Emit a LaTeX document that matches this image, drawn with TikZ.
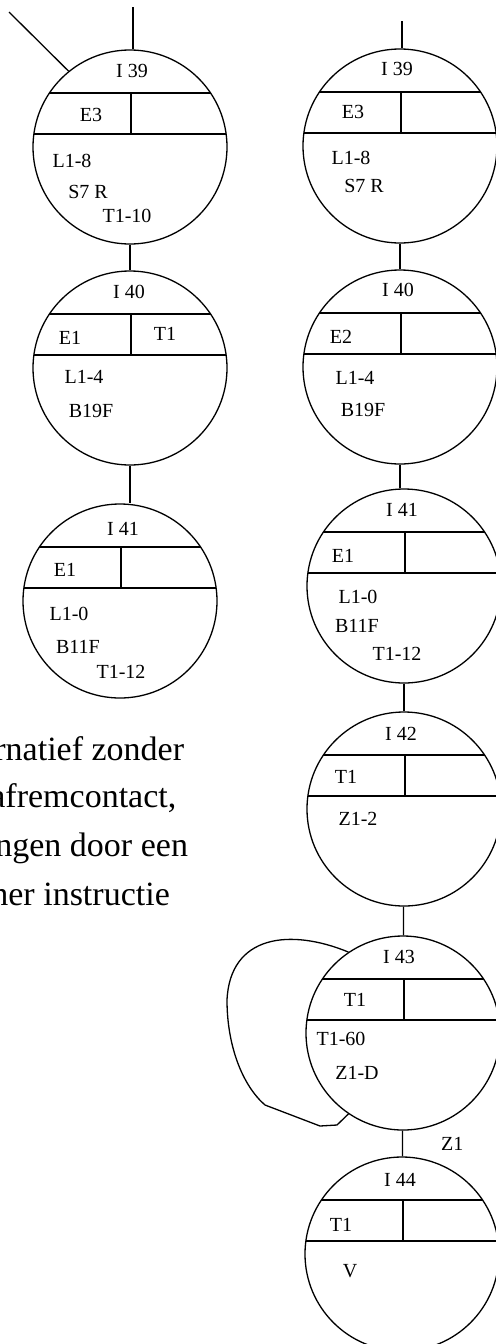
\documentclass[tikz,border=0pt]{standalone}
\usepackage{fontspec}
\setmainfont{Liberation Serif}
\usetikzlibrary{calc}
\tikzstyle{stap} = [circle, draw, line width=0.65pt, minimum size=97pt, inner sep=0pt]
\tikzstyle{veld} = [inner sep=0pt, font=\fontsize{10pt}{12pt}\selectfont]
\tikzstyle{tekst} = [inner sep=0pt, anchor=base west, font=\fontsize{17pt}{20pt}\selectfont]
\tikzstyle{verbinding} = [line width=0.65pt]

\begin{document}
\begin{tikzpicture}[x=0.5pt, y=-0.5pt]
\useasboundingbox (0,0) rectangle (496,1344);
\node (i39l) [stap] at (130,147) {};
\node (i40l) [stap] at (130,368) {};
\node (i41l) [stap] at (120,601) {};
\node (i39r) [stap] at (400,146) {};
\node (i40r) [stap] at (400,367) {};
\node (i41r) [stap] at (404,586) {};
\node (i42r) [stap] at (404,809) {};
\node (i43r) [stap] at (403,1033) {};
\node (i44r) [stap] at (402,1254) {};
\foreach \s in {i39l,i40l,i41l,i39r,i40r,i41r,i42r,i43r,i44r}
  \draw [verbinding] ($(\s)+(-80.6,-54)$) -- ++(161.2,0) ($(\s)+(-96.1,-13)$) -- ++(192.2,0) ($(\s)+(1,-54)$) -- ++(0,41);
\node (n39l) [veld] at (132,71) {I 39};
\node (e39l) [veld] at (91,115) {E3};
\node (a39l) [veld] at (72,161) {L1-8};
\node (b39l) [veld] at (88,192) {S7 R};
\node (c39l) [veld] at (127,216) {T1-10};
\node (n40l) [veld] at (129,292) {I 40};
\node (e40l) [veld] at (70,338) {E1};
\node (f40l) [veld] at (165,334) {T1};
\node (a40l) [veld] at (84,377) {L1-4};
\node (b40l) [veld] at (91,411) {B19F};
\node (n41l) [veld] at (123,529) {I 41};
\node (e41l) [veld] at (65,570) {E1};
\node (a41l) [veld] at (69,614) {L1-0};
\node (b41l) [veld] at (78,647) {B11F};
\node (c41l) [veld] at (121,672) {T1-12};
\node (n39r) [veld] at (397,69) {I 39};
\node (e39r) [veld] at (353,112) {E3};
\node (a39r) [veld] at (351,158) {L1-8};
\node (b39r) [veld] at (364,186) {S7 R};
\node (n40r) [veld] at (398,290) {I 40};
\node (e40r) [veld] at (341,337) {E2};
\node (a40r) [veld] at (355,378) {L1-4};
\node (b40r) [veld] at (363,410) {B19F};
\node (n41r) [veld] at (402,510) {I 41};
\node (e41r) [veld] at (343,556) {E1};
\node (a41r) [veld] at (358,597) {L1-0};
\node (b41r) [veld] at (357,626) {B11F};
\node (c41r) [veld] at (397,654) {T1-12};
\node (n42r) [veld] at (401,734) {I 42};
\node (e42r) [veld] at (346,777) {T1};
\node (a42r) [veld] at (358,819) {Z1-2};
\node (n43r) [veld] at (399,957) {I 43};
\node (e43r) [veld] at (355,1000) {T1};
\node (a43r) [veld] at (341,1039) {T1-60};
\node (b43r) [veld] at (357,1073) {Z1-D};
\node (n44r) [veld] at (400,1180) {I 44};
\node (e44r) [veld] at (341,1225) {T1};
\node (a44r) [veld] at (350,1271) {V};
\node (r1) [tekst] at (-6,760) {rnatief zonder};
\node (r2) [tekst] at (-10,807) {afremcontact,};
\node (r3) [tekst] at (-5,856) {ngen door een};
\node (r4) [tekst] at (-9,905) {ner instructie};
\coordinate (inL) at (9,12);
\coordinate (topL) at (133,7);
\coordinate (topR) at (402,21);
\draw [verbinding] (topL) -- (topL |- i39l.north);
\draw [verbinding] (inL) -- (i39l.129);
\draw [verbinding] (i39l) -- (i40l);
\draw [verbinding] (i40l.south) -- (i40l.south |- i41l.north);
\draw [verbinding] (topR) -- (topR |- i39r.north);
\draw [verbinding] (i39r) -- (i40r);
\draw [verbinding] (i40r.south) -- (i40r.south |- i41r.north);
\draw [verbinding] (i41r) -- (i42r);
\draw [verbinding] (i42r) -- (i43r);
\draw [verbinding] (i43r) -- node (z1) [veld, right=19pt] {Z1} (i44r);
\draw [verbinding] (i43r.124) .. controls (290,928) and (230,935) .. (227,1000) .. controls (227,1045) and (242,1085) .. (265,1105) -- (320,1126) -- (337,1125) -- (i43r.236);
\end{tikzpicture}
\end{document}
